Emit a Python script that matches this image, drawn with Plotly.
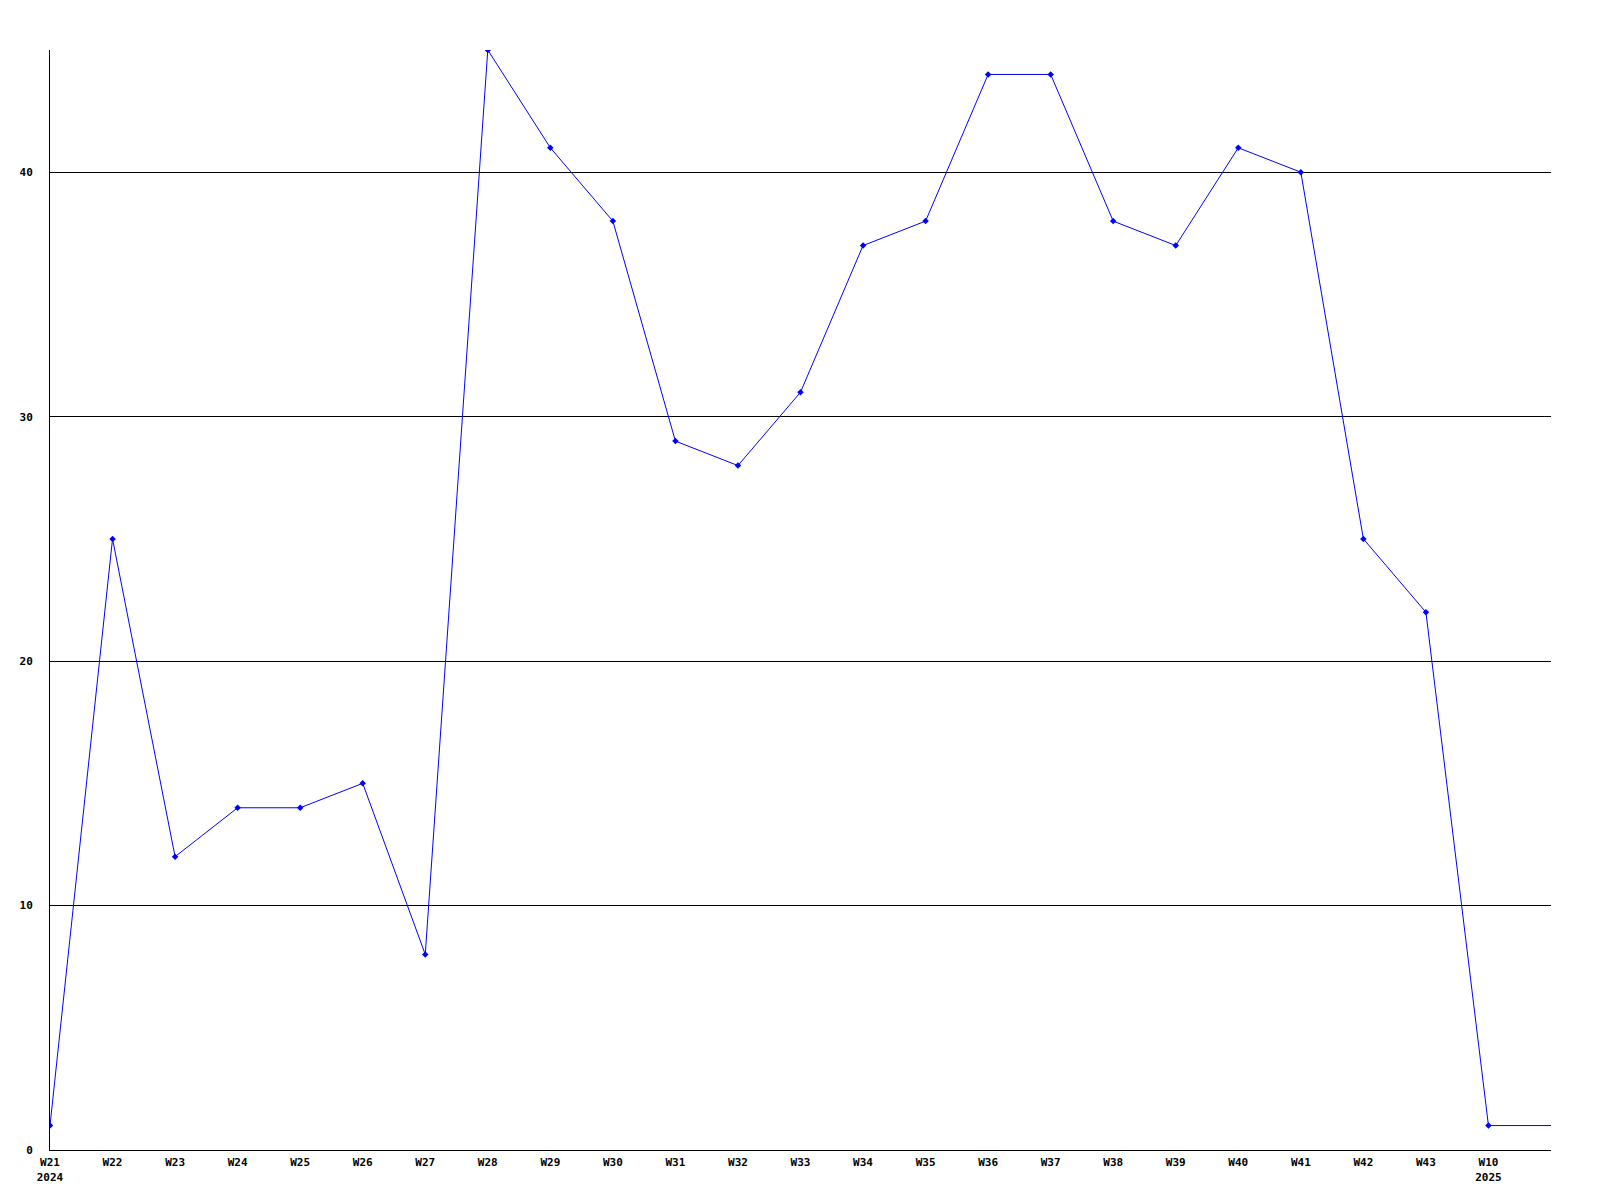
import plotly.graph_objects as go

weeks = ["W21", "W22", "W23", "W24", "W25", "W26", "W27", "W28", "W29", "W30",
         "W31", "W32", "W33", "W34", "W35", "W36", "W37", "W38", "W39", "W40",
         "W41", "W42", "W43", "W10"]
years = {0: "2024", 23: "2025"}
values = [1, 25, 12, 14, 14, 15, 8, 45, 41, 38,
          29, 28, 31, 37, 38, 44, 44, 38, 37, 41,
          40, 25, 22, 1]
y_ticks = [0, 10, 20, 30, 40]

xs = list(range(len(weeks)))
ticktext = [w + ("<br>" + years[i] if i in years else "") for i, w in enumerate(weeks)]

BLUE = "#0000ff"
FONT = dict(family="DejaVu Sans Mono", size=11, color="black")

fig = go.Figure()
# carry last value to the right edge of the plot
fig.add_trace(go.Scatter(x=[xs[-1], len(weeks)], y=[values[-1], values[-1]],
                         mode="lines", line=dict(color=BLUE, width=1),
                         hoverinfo="skip", showlegend=False))
fig.add_trace(go.Scatter(x=xs, y=values, mode="lines+markers",
                         line=dict(color=BLUE, width=1),
                         marker=dict(symbol="diamond", size=5, color=BLUE),
                         showlegend=False))

fig.update_layout(
    width=1592, height=1192,
    margin=dict(l=42, r=49, t=42, b=50, autoexpand=False),
    plot_bgcolor="white", paper_bgcolor="white",
    font=FONT,
    xaxis=dict(range=[0, len(weeks)], tickmode="array", tickvals=xs, ticktext=ticktext,
               automargin=False, ticklabelstandoff=2,
               showgrid=False, zeroline=False, showline=True, linecolor="black",
               linewidth=1, ticks="", tickfont=dict(family="DejaVu Sans Mono", size=11,
                                                    color="black", weight="bold")),
    yaxis=dict(range=[0, 45], tickmode="array", tickvals=y_ticks,
               automargin=False,
               showgrid=True, gridcolor="black", gridwidth=1, zeroline=False,
               showline=True, linecolor="black", linewidth=1, ticks="",
               ticklabelstandoff=14,
               tickfont=dict(family="DejaVu Sans Mono", size=11, color="black",
                             weight="bold")),
)

fig.write_html("out.html")
